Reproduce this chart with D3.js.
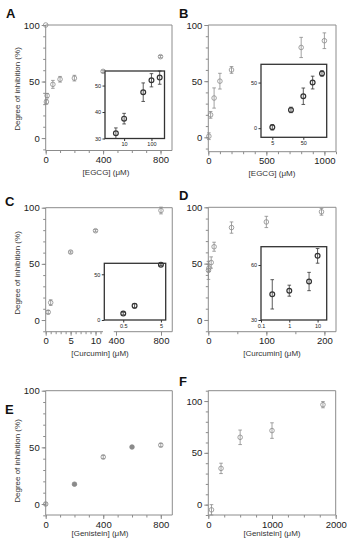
<!DOCTYPE html>
<html>
<head>
<meta charset="utf-8">
<script src="https://cdn.jsdelivr.net/npm/d3@7"></script>
<style>
  body { margin: 0; background: #fff; }
  svg { display: block; font-family: "Liberation Sans", Arial, sans-serif; }
  .tick text { fill: #222; }
</style>
</head>
<body>
<div id="chart"></div>
<script>
// ---- data ----
// A: EGCG, first assay
const egcgAX = [0, 5, 10, 50, 100, 200, 400, 800];
const egcgAY = [100, 32, 37.5, 47.5, 52, 53, 59, 72];
const egcgAErr = [0, 2, 2, 3.5, 2.5, 2.5, 1, 1];
// B: EGCG, second assay
const egcgBX = [5, 20, 50, 100, 200, 800, 1000];
const egcgBY = [1, 20, 35, 50, 60, 80, 86];
const egcgBErr = [3, 3, 9, 7, 3, 9, 7];
// C: curcumin, first assay
const curcCX = [0.5, 1, 5, 10, 800];
const curcCY = [7, 15.5, 60.5, 79.5, 97.5];
const curcCErr = [1.5, 2.5, 1, 1, 3];
// D: curcumin, second assay
const curcDX = [0.25, 1, 5, 10, 40, 100, 195];
const curcDY = [44, 46, 51, 65, 82, 87, 96];
const curcDErr = [8, 3, 5, 4, 5, 5, 3];
// E: genistein, first assay
const genEX = [0, 200, 400, 600, 800];
const genEY = [0, 17.5, 41.5, 50.3, 52];
const genEErr = [1, 1, 1.5, 1, 1.5];
const genEFilled = [false, true, false, true, false];
// F: genistein, second assay
const genFX = [50, 200, 500, 1000, 1800];
const genFY = [-5, 35, 65, 71.5, 96.5];
const genFErr = [5, 5, 7, 7.5, 3];

const yLabel = 'Degree of inhibition (%)';

function zip(xs, ys, es, filled) {
    return xs.map((x, i) => ({ x: x, y: ys[i], e: es[i], f: filled ? filled[i] : false }));
}

const svg = d3.select('#chart').append('svg')
    .attr('width', 350).attr('height', 550);

const frameColor = '#8c8c8c';
const markColor = '#8a8a8a';
const fmt = d3.format('~g');

// error bars + circles
function drawPoints(g, data, x, y, opts) {
    const r = opts.r, cap = opts.cap, col = opts.color, sw = opts.sw;
    const pts = g.append('g').selectAll('g').data(data).join('g');
    pts.filter(d => d.e > 0).append('line')
        .attr('x1', d => x(d.x)).attr('x2', d => x(d.x))
        .attr('y1', d => y(d.y - d.e)).attr('y2', d => y(d.y + d.e))
        .attr('stroke', col).attr('stroke-width', 0.8);
    pts.filter(d => d.e > 0).append('line')
        .attr('x1', d => x(d.x) - cap).attr('x2', d => x(d.x) + cap)
        .attr('y1', d => y(d.y + d.e)).attr('y2', d => y(d.y + d.e))
        .attr('stroke', col).attr('stroke-width', 0.8);
    pts.filter(d => d.e > 0).append('line')
        .attr('x1', d => x(d.x) - cap).attr('x2', d => x(d.x) + cap)
        .attr('y1', d => y(d.y - d.e)).attr('y2', d => y(d.y - d.e))
        .attr('stroke', col).attr('stroke-width', 0.8);
    pts.append('circle')
        .attr('cx', d => x(d.x)).attr('cy', d => y(d.y))
        .attr('r', r)
        .attr('fill', d => d.f ? col : 'none')
        .attr('stroke', col).attr('stroke-width', sw);
}

function styleAxis(sel, fontSize, color) {
    sel.select('.domain').remove();
    sel.selectAll('.tick line').attr('stroke', color);
    sel.selectAll('.tick text').attr('font-size', fontSize + 'px');
}

// main panel
function drawPanel(p) {
    const g = svg.append('g');
    const x = p.x, y = p.y;
    const [x0, x1] = p.xRange;
    const [yb, yt] = y.range();

    // y axis ticks
    g.append('g').attr('transform', `translate(${x0},0)`)
        .call(d3.axisLeft(y).tickValues(p.yMinor).tickSize(2.5).tickFormat(''))
        .call(s => styleAxis(s, 9.5, frameColor));
    g.append('g').attr('transform', `translate(${x0},0)`)
        .call(d3.axisLeft(y).tickValues([0, 50, 100]).tickSize(4).tickPadding(2).tickFormat(fmt))
        .call(s => styleAxis(s, 9.5, frameColor));

    // x axis ticks
    p.xAxes.forEach(ax => {
        g.append('g').attr('transform', `translate(0,${yb})`)
            .call(d3.axisBottom(ax.scale).tickValues(ax.minor).tickSize(2.5).tickFormat(''))
            .call(s => styleAxis(s, 9.5, frameColor));
        g.append('g').attr('transform', `translate(0,${yb})`)
            .call(d3.axisBottom(ax.scale).tickValues(ax.major).tickSize(4).tickPadding(2).tickFormat(fmt))
            .call(s => styleAxis(s, 9.5, frameColor));
        const [a, b] = ax.scale.range();
        g.append('line').attr('x1', a).attr('x2', b).attr('y1', yb).attr('y2', yb)
            .attr('stroke', frameColor).attr('stroke-width', 1);
    });

    // frame: left, top, right
    g.append('path')
        .attr('d', `M${x0},${yb}V${yt}H${x1}V${yb}`)
        .attr('fill', 'none').attr('stroke', frameColor).attr('stroke-width', 1);

    drawPoints(g, p.data, p.px, y, { r: 2.3, cap: 1.8, color: markColor, sw: 0.8 });

    // panel letter
    svg.append('text').attr('x', p.letterPos[0]).attr('y', p.letterPos[1])
        .attr('font-size', '13px').attr('font-weight', 'bold').attr('fill', '#111')
        .text(p.letter);

    // x label
    svg.append('text').attr('x', p.xLabelPos[0]).attr('y', p.xLabelPos[1])
        .attr('text-anchor', 'middle').attr('font-size', '8px').attr('fill', '#333')
        .text(p.xLabel);

    if (p.yLabelPos) {
        svg.append('text')
            .attr('transform', `translate(${p.yLabelPos[0]},${p.yLabelPos[1]}) rotate(-90)`)
            .attr('text-anchor', 'middle').attr('font-size', '8px').attr('fill', '#333')
            .text(yLabel);
    }

    if (p.inset) drawInset(p.inset);
}

function drawInset(ins) {
    const g = svg.append('g');
    const x = ins.x, y = ins.y;
    const [xl, xr] = x.range();
    const [yb, yt] = y.range();
    g.append('rect').attr('x', xl).attr('y', yt)
        .attr('width', xr - xl).attr('height', yb - yt)
        .attr('fill', '#fff').attr('stroke', '#333').attr('stroke-width', 1.3);
    g.append('g').attr('transform', `translate(${xl},0)`)
        .call(d3.axisLeft(y).tickValues(ins.yTicks).tickSize(2.5).tickPadding(1.5))
        .call(s => styleAxis(s, 5.5, '#333'));
    g.append('g').attr('transform', `translate(0,${yb})`)
        .call(d3.axisBottom(x).tickValues(ins.xTicks).tickSize(2.5).tickPadding(1.5)
            .tickFormat(fmt))
        .call(s => styleAxis(s, 5.5, '#333'));
    drawPoints(g, ins.data, x, y, { r: 2.4, cap: 1.8, color: '#333', sw: 1.2 });
}

// ---- A ----
const xA = d3.scaleLinear().domain([0, 880]).range([45.7, 172]);
const yA = d3.scaleLinear().domain([-11, 100]).range([150.5, 25]);
drawPanel({
    letter: 'A', letterPos: [6, 18],
    x: xA, y: yA, px: xA, xRange: [45.7, 172],
    xAxes: [{ scale: xA, major: [0, 400, 800], minor: d3.range(0, 881, 100) }],
    yMinor: d3.range(-10, 101, 10),
    data: zip(egcgAX, egcgAY, egcgAErr),
    xLabel: '[EGCG] (\u03bcM)', xLabelPos: [106, 175],
    yLabelPos: [20, 89],
    inset: {
        x: d3.scaleLog().domain([2, 300]).range([105, 164.5]),
        y: d3.scaleLinear().domain([30, 55.5]).range([138.5, 71]),
        xTicks: [10, 100], yTicks: [30, 40, 50],
        data: zip(egcgAX.slice(1, 6), egcgAY.slice(1, 6), egcgAErr.slice(1, 6))
    }
});

// ---- B ----
const xB = d3.scaleLinear().domain([0, 1100]).range([208.3, 336]);
const yB = d3.scaleLinear().domain([-12.8, 100]).range([151.7, 25]);
drawPanel({
    letter: 'B', letterPos: [179, 18],
    x: xB, y: yB, px: xB, xRange: [208.3, 336],
    xAxes: [{ scale: xB, major: [0, 500, 1000], minor: d3.range(0, 1101, 100) }],
    yMinor: d3.range(-10, 101, 10),
    data: zip(egcgBX, egcgBY, egcgBErr),
    xLabel: '[EGCG] (\u03bcM)', xLabelPos: [272, 176],
    inset: {
        x: d3.scaleLog().domain([2.16, 284]).range([261, 326.7]),
        y: d3.scaleLinear().domain([-10, 70]).range([137.3, 64.3]),
        xTicks: [5, 50], yTicks: [0, 50],
        data: zip(egcgBX.slice(0, 5), egcgBY.slice(0, 5), egcgBErr.slice(0, 5))
    }
});

// ---- C (broken x axis) ----
const xCl = d3.scaleLinear().domain([0, 11.5]).range([45.7, 103]);
const xCr = d3.scaleLinear().domain([380, 900]).range([113.75, 172.25]);
const xC = v => (v <= 11.5 ? xCl(v) : xCr(v));
const yC = d3.scaleLinear().domain([-10.4, 100]).range([331.7, 207.7]);
drawPanel({
    letter: 'C', letterPos: [5, 206],
    x: xCl, y: yC, px: xC, xRange: [45.7, 172.25],
    xAxes: [
        { scale: xCl, major: [0, 5, 10], minor: d3.range(0, 12, 1) },
        { scale: xCr, major: [400, 800], minor: [] }
    ],
    yMinor: d3.range(-10, 101, 10),
    data: zip(curcCX, curcCY, curcCErr),
    xLabel: '[Curcumin] (\u03bcM)', xLabelPos: [100, 356],
    yLabelPos: [20, 273],
    inset: {
        x: d3.scaleLog().domain([0.157, 6.7]).range([104.3, 165.7]),
        y: d3.scaleLinear().domain([0, 62]).range([320, 263.3]),
        xTicks: [0.5, 5], yTicks: [0, 50],
        data: zip(curcCX.slice(0, 3), curcCY.slice(0, 3), curcCErr.slice(0, 3))
    }
});

// ---- D ----
const xD = d3.scaleLinear().domain([0, 220]).range([208.3, 336]);
const yD = d3.scaleLinear().domain([-10.4, 100]).range([331.7, 207.3]);
drawPanel({
    letter: 'D', letterPos: [179, 200],
    x: xD, y: yD, px: xD, xRange: [208.3, 336],
    xAxes: [{ scale: xD, major: [0, 100, 200], minor: d3.range(0, 221, 50) }],
    yMinor: d3.range(-10, 101, 10),
    data: zip(curcDX, curcDY, curcDErr),
    xLabel: '[Curcumin] (\u03bcM)', xLabelPos: [272, 356],
    inset: {
        x: d3.scaleLog().domain([0.1, 21]).range([261, 326.7]),
        y: d3.scaleLinear().domain([30, 70]).range([320, 246.7]),
        xTicks: [0.1, 1, 10], yTicks: [30, 60],
        data: zip(curcDX.slice(0, 4), curcDY.slice(0, 4), curcDErr.slice(0, 4))
    }
});

// ---- E ----
const xE = d3.scaleLinear().domain([0, 880]).range([45.7, 172.3]);
const yE = d3.scaleLinear().domain([-9.7, 100]).range([515, 390.7]);
drawPanel({
    letter: 'E', letterPos: [5, 414],
    x: xE, y: yE, px: xE, xRange: [45.7, 172.3],
    xAxes: [{ scale: xE, major: [0, 400, 800], minor: d3.range(0, 881, 100) }],
    yMinor: d3.range(-10, 101, 10),
    data: zip(genEX, genEY, genEErr, genEFilled),
    xLabel: '[Genistein] (\u03bcM)', xLabelPos: [100, 536],
    yLabelPos: [20, 461]
});

// ---- F ----
const xF = d3.scaleLinear().domain([0, 2000]).range([208.3, 335.7]);
const yF = d3.scaleLinear().domain([-10, 110]).range([515, 390.7]);
drawPanel({
    letter: 'F', letterPos: [179, 386],
    x: xF, y: yF, px: xF, xRange: [208.3, 335.7],
    xAxes: [{ scale: xF, major: [0, 1000, 2000], minor: d3.range(0, 2001, 250) }],
    yMinor: d3.range(-10, 111, 10),
    data: zip(genFX, genFY, genFErr),
    xLabel: '[Genistein] (\u03bcM)', xLabelPos: [272, 536]
});
</script>
</body>
</html>
